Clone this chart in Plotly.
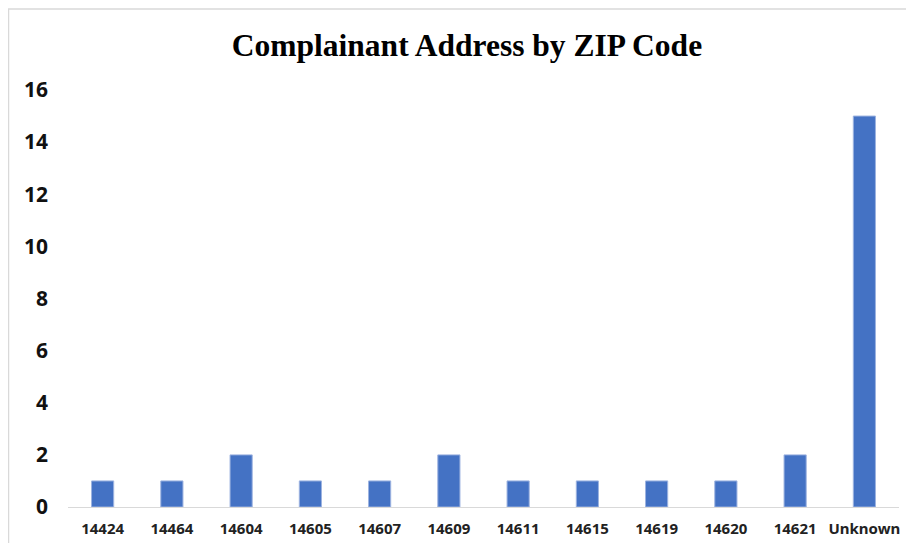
import plotly.graph_objects as go

zip_codes = ["14424", "14464", "14604", "14605", "14607", "14609", "14611",
             "14615", "14619", "14620", "14621", "Unknown"]
counts = [1, 1, 2, 1, 1, 2, 1, 1, 1, 1, 2, 15]
y_ticks = [0, 2, 4, 6, 8, 10, 12, 14, 16]

fig = go.Figure(go.Bar(
    x=zip_codes, y=counts,
    marker=dict(color="#4472C4", line=dict(color="#9db3e0", width=1)),
    width=0.32,
))

fig.update_layout(
    width=906, height=535,
    margin=dict(l=60, r=15, t=82, b=36),
    paper_bgcolor="white", plot_bgcolor="white",
    showlegend=False,
    title=dict(text="<b>Complainant Address by ZIP Code</b>",
               x=0.5066, xanchor="center", y=0.931, yanchor="middle",
               font=dict(family="Liberation Serif", size=31.5, color="#000000")),
    xaxis=dict(showgrid=False, showline=True, linecolor="#d9d9d9", linewidth=1,
               ticks="", automargin=False,
               tickfont=dict(family="Noto Sans", size=15, color="#222222", weight="bold"),
               ticklabelstandoff=8),
    yaxis=dict(range=[0, 16], tickvals=y_ticks, showgrid=False, zeroline=False,
               showline=False, ticks="", automargin=False,
               tickfont=dict(family="Noto Sans", size=21, color="#111111", weight="bold"),
               ticklabelstandoff=19),
    shapes=[dict(type="rect", xref="paper", yref="paper",
                 x0=-0.0716, x1=1.2, y0=-0.3, y1=1.194,
                 line=dict(color="#d9d9d9", width=1.5), fillcolor="rgba(0,0,0,0)",
                 layer="below")],
)

fig.write_html("out.html")
